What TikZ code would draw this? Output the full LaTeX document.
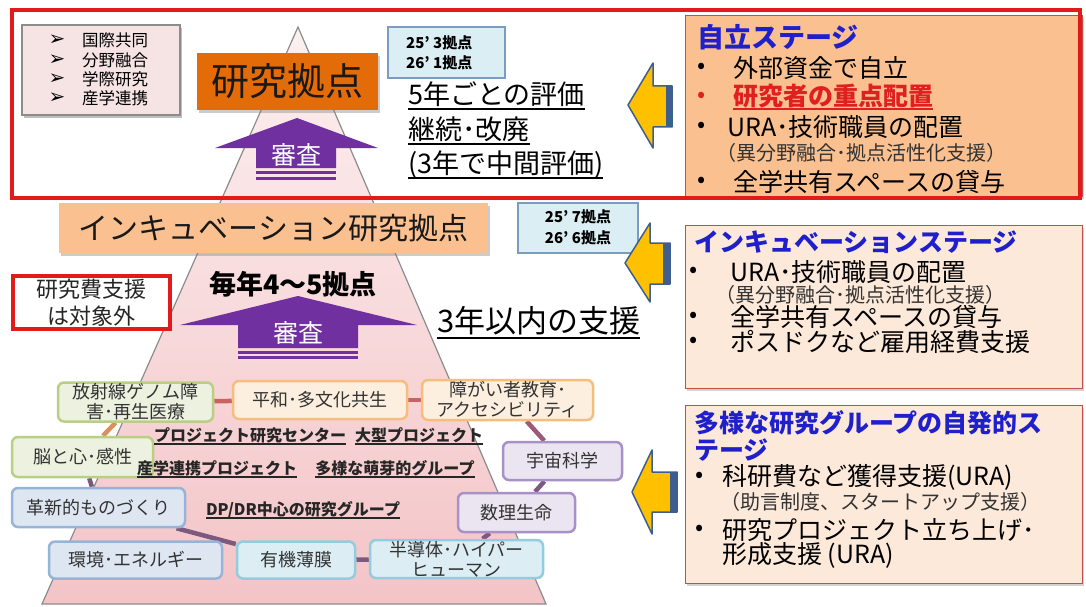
\documentclass[tikz,border=0pt]{standalone}
\usepackage{fontspec}
\setmainfont{Noto Sans CJK JP}
\newfontfamily\dejavu{DejaVu Sans}
\usetikzlibrary{shadows}
\newcommand\setfs[2]{\fontsize{#1}{#2}\selectfont}
\newcommand\myul[1]{\setbox0=\hbox{#1}\leavevmode\rlap{\rule[-0.2em]{\wd0}{0.075em}}\box0}
\definecolor{framered}{HTML}{E31A1A}
\definecolor{peach}{HTML}{FAC090}
\definecolor{lightpink}{HTML}{FDE9D9}
\definecolor{boxedge}{HTML}{C0504D}
\definecolor{titleblue}{HTML}{1F1FCC}
\definecolor{textred}{HTML}{E02020}
\definecolor{orangebox}{HTML}{E36C09}
\definecolor{purp}{HTML}{7030A0}
\definecolor{yellowarr}{HTML}{FFC000}
\definecolor{arredge}{HTML}{3E5F8E}
\definecolor{infofill}{HTML}{DBEEF4}
\definecolor{infoedge}{HTML}{7A9CC0}
\definecolor{pyrtop}{HTML}{FCF0F0}
\definecolor{pyrbot}{HTML}{F4C4C7}
\definecolor{pyredge}{HTML}{8C8C8C}
\definecolor{listfill}{HTML}{F6E3E3}
\definecolor{greenF}{HTML}{EDF1DF}
\definecolor{greenG}{HTML}{B9CF83}
\definecolor{orangeF}{HTML}{FDEFDF}
\definecolor{orangeG}{HTML}{F5BE7E}
\definecolor{lavF}{HTML}{EAE5F0}
\definecolor{lavG}{HTML}{A891C6}
\definecolor{blueF}{HTML}{DEE6F2}
\definecolor{blueG}{HTML}{97B4D8}
\definecolor{cyanF}{HTML}{DCEEF4}
\definecolor{cyanG}{HTML}{93CDDD}
\definecolor{ringred}{HTML}{C96262}
\definecolor{ringmid}{HTML}{9C5A78}
\definecolor{ringpur}{HTML}{7C5A80}
\definecolor{ringorg}{HTML}{D9905A}
\pgfdeclarelayer{bg}
\pgfdeclarelayer{lines}
\pgfsetlayers{bg,lines,main}
\begin{document}
\begin{tikzpicture}[x=1pt,y=-1pt,
  txt/.style={inner sep=0pt, anchor=west, text=black},
  ctxt/.style={inner sep=0pt, text=black},
  tag/.style 2 args={rounded corners=6pt, fill=#1, draw=#2, line width=2.5pt,
    inner sep=0pt, align=center, text=black!80, font=\setfs{18}{20}},
  infobox/.style={fill=infofill, draw=infoedge, line width=2.2pt, inner sep=0pt},
  stagebox/.style={fill=lightpink, draw=boxedge, line width=0.9pt, inner sep=0pt,
    drop shadow={shadow xshift=2pt, shadow yshift=-3pt, opacity=0.35}},
  stagetitle/.style={txt, text=titleblue, font=\setfs{25}{28}\bfseries},
  item/.style={txt, font=\setfs{25}{28}},
  subitem/.style={txt, font=\setfs{20}{22}, text=black!80},
  dot/.style={inner sep=0pt, font=\setfs{24}{26}},
  inner/.style={ctxt, font=\setfs{16}{18}\bfseries, text=black!85},
  purparrow/.style={fill=purp},
  yarrow/.style={fill=yellowarr, draw=arredge, line width=1.5pt, line join=round},
  ringR/.style={draw=ringred, line width=4.5pt},
  ringM/.style={draw=ringmid, line width=4.5pt},
  ringP/.style={draw=ringpur, line width=4.5pt},
  ringO/.style={draw=ringorg, line width=4.5pt}]
\useasboundingbox (0,0) rectangle (1086,607);
\begin{pgfonlayer}{bg}
\fill[white] (0,0) rectangle (1086,607);
\shadedraw[top color=pyrtop, bottom color=pyrbot, draw=pyredge, line width=1.2pt]
  (298,27) -- (546,604) -- (42,604) -- cycle;
\end{pgfonlayer}

% ---------- top list box ----------
\node[fill=listfill, draw=black!45, line width=1.2pt, minimum width=158pt, minimum height=90pt,
  drop shadow={shadow xshift=2pt, shadow yshift=-3pt, opacity=0.5}] (list) at (101,70) {};
\node[ctxt, font=\dejavu\setfs{20}{21}] (b1) at (57,40) {➢};
\node[ctxt, font=\dejavu\setfs{20}{21}] (b2) at (57,60) {➢};
\node[ctxt, font=\dejavu\setfs{20}{21}] (b3) at (57,79) {➢};
\node[ctxt, font=\dejavu\setfs{20}{21}] (b4) at (57,98) {➢};
\node[txt, font=\setfs{16.5}{18}] (l1) at (82,40) {国際共同};
\node[txt, font=\setfs{16.5}{18}] (l2) at (82,60) {分野融合};
\node[txt, font=\setfs{16.5}{18}] (l3) at (82,79) {学際研究};
\node[txt, font=\setfs{16.5}{18}] (l4) at (82,98) {産学連携};

% ---------- research hub ----------
\node[fill=orangebox, minimum width=181pt, minimum height=57pt, inner sep=0pt,
  drop shadow={shadow xshift=2pt, shadow yshift=-3pt, opacity=0.4},
  font=\setfs{38}{40}, text=black!90] (hub) at (287.5,81.5) {研究拠点};

% purple arrow 1
\path[purparrow] (215,148) -- (297,118) -- (378,148) -- (336,148) -- (336,168) -- (256,168) -- (256,148) -- cycle;
\fill[purp] (256,171) rectangle (336,174);
\fill[purp] (256,177) rectangle (336,180);
\node[ctxt, text=white, font=\setfs{25}{26}] (rev1) at (296,155) {審査};

% info box 1
\node[infobox, minimum width=117pt, minimum height=51pt] (info1) at (446.5,52.5) {};
\node[txt, font=\setfs{15}{16}\bfseries] (i1a) at (406,43) {25’ 3拠点};
\node[txt, font=\setfs{15}{16}\bfseries] (i1b) at (406,63) {26’ 1拠点};

\node[txt, font=\setfs{27}{30}] (ev1) at (408,96) {\myul{5年ごとの評価}};
\node[txt, font=\setfs{27}{30}] (ev2) at (408,131) {\myul{継続･改廃}};
\node[txt, font=\setfs{27}{30}] (ev3) at (408,165) {\myul{(3年で中間評価)}};

% yellow arrow 1
\path[yarrow] (628,105) -- (653,63) -- (653,86) -- (672,86) -- (672,127) -- (653,127) -- (653,148) -- cycle;
\fill[arredge] (666,86) rectangle (673,127);

% stage box 1
\node[stagebox, fill=peach, minimum width=397pt, minimum height=181pt] (st1) at (883.5,105.5) {};
\node[stagetitle, font=\setfs{27}{30}\bfseries] (st1t) at (697,37) {自立ステージ};
\node[dot] (d11) at (702,68) {•};
\node[item] (st1a) at (733,68) {外部資金で自立};
\node[dot, text=textred] (d12) at (702,97) {•};
\node[item, text=textred, font=\setfs{25}{28}\bfseries] (st1b) at (733,97) {\myul{研究者の重点配置}};
\node[dot] (d13) at (702,127) {•};
\node[item] (st1c) at (727,127) {URA･技術職員の配置};
\node[subitem] (st1d) at (716,153) {（異分野融合･拠点活性化支援）};
\node[dot] (d14) at (702,182) {•};
\node[item] (st1e) at (733,182) {全学共有スペースの貸与};

% red frame
\draw[framered, line width=4pt] (12,10) rectangle (1080,198);

% ---------- incubation ----------
\node[fill=peach, minimum width=429pt, minimum height=50pt, inner sep=0pt,
  drop shadow={shadow xshift=2pt, shadow yshift=-3pt, opacity=0.4},
  font=\setfs{30}{32}, text=black!90] (inc) at (273.5,228) {インキュベーション研究拠点};

\node[infobox, minimum width=120pt, minimum height=50pt] (info2) at (578,228) {};
\node[ctxt, font=\setfs{15}{16}\bfseries] (i2a) at (578,217) {25’ 7拠点};
\node[ctxt, font=\setfs{15}{16}\bfseries] (i2b) at (578,238) {26’ 6拠点};

\path[yarrow] (625,263) -- (650,223) -- (650,243) -- (670,243) -- (670,284) -- (650,284) -- (650,302) -- cycle;
\fill[arredge] (663,243) rectangle (671,284);

\node[ctxt, font=\setfs{27}{29}\bfseries] (yearly) at (293,284) {毎年4～5拠点};

\path[purparrow] (180,325) -- (298,296) -- (417,325) -- (358,325) -- (358,348) -- (238,348) -- (238,325) -- cycle;
\fill[purp] (238,351) rectangle (358,354);
\fill[purp] (238,356) rectangle (358,359);
\node[ctxt, text=white, font=\setfs{25}{26}] (rev2) at (298,333) {審査};

\node[fill=white, draw=framered, line width=4pt, minimum width=157pt, minimum height=53pt,
  inner sep=0pt, align=center, font=\setfs{22}{27}, text=black!85] (excl) at (91,302.5) {研究費支援\\は対象外};

\node[txt, font=\setfs{31}{33}] (three) at (437,323) {\myul{3年以内の支援}};

% stage box 2
\node[stagebox, minimum width=397pt, minimum height=163pt] (st2) at (883.5,306.5) {};
\node[stagetitle] (st2t) at (694,242) {インキュベーションステージ};
\node[dot] (d21) at (694,272) {•};
\node[item] (st2a) at (730,272) {URA･技術職員の配置};
\node[subitem] (st2b) at (715,295) {（異分野融合･拠点活性化支援）};
\node[dot] (d22) at (694,317) {•};
\node[item] (st2c) at (730,317) {全学共有スペースの貸与};
\node[dot] (d23) at (694,342) {•};
\node[item] (st2d) at (730,342) {ポスドクなど雇用経費支援};

% stage box 3
\path[yarrow] (632,492) -- (652,450) -- (652,472) -- (677,472) -- (677,512) -- (652,512) -- (652,534) -- cycle;
\fill[arredge] (670,472) rectangle (678,512);
\node[stagebox, minimum width=397pt, minimum height=178pt] (st3) at (883.5,494) {};
\node[stagetitle] (st3t) at (694,423) {多様な研究グループの自発的ス};
\node[stagetitle] (st3t2) at (694,450) {テージ};
\node[dot] (d31) at (700,477) {•};
\node[item] (st3a) at (722,477) {科研費など獲得支援(URA)};
\node[subitem] (st3b) at (720,502) {（助言制度、スタートアップ支援）};
\node[dot] (d32) at (700,530) {•};
\node[item] (st3c) at (722,530) {研究プロジェクト立ち上げ･};
\node[item] (st3d) at (722,555) {形成支援 (URA)};

% ---------- group network ----------
\node[tag={greenF}{greenG}, minimum width=155pt, minimum height=39pt] (rad) at (135.5,402) {放射線ゲノム障\\害･再生医療};
\node[tag={orangeF}{orangeG}, minimum width=174pt, minimum height=38pt] (peace) at (320,400) {平和･多文化共生};
\node[tag={orangeF}{orangeG}, minimum width=171pt, minimum height=40pt] (acc) at (507.5,400) {障がい者教育･\\アクセシビリティ};
\node[tag={greenF}{greenG}, minimum width=141pt, minimum height=40pt] (brain) at (82.5,457) {脳と心･感性};
\node[tag={lavF}{lavG}, minimum width=119pt, minimum height=38pt] (space) at (562.5,461) {宇宙科学};
\node[tag={blueF}{blueG}, minimum width=173pt, minimum height=39pt] (mono) at (98.5,507.5) {革新的ものづくり};
\node[tag={lavF}{lavG}, minimum width=117pt, minimum height=39pt] (math) at (516.5,512.5) {数理生命};
\node[tag={blueF}{blueG}, minimum width=173pt, minimum height=37pt] (env) at (135.5,560) {環境･エネルギー};
\node[tag={cyanF}{cyanG}, minimum width=118pt, minimum height=37pt] (org) at (296,560) {有機薄膜};
\node[tag={cyanF}{cyanG}, minimum width=173pt, minimum height=38pt] (semi) at (456.5,559) {半導体･ハイパー\\ヒューマン};

\begin{pgfonlayer}{lines}
\draw[ringR] (rad) -- (peace);
\draw[ringR] (peace) -- (acc);
\draw[ringM] (acc) -- (space);
\draw[ringP] (space) -- (math);
\draw[ringP] (math) -- (semi);
\draw[ringP] (semi) -- (org);
\draw[ringP] (org) -- (mono);
\draw[ringP] (mono) -- (brain);
\draw[ringO] (brain) -- (rad);
\end{pgfonlayer}

\node[inner] (pc) at (250,436) {\myul{プロジェクト研究センター}};
\node[inner] (big) at (419,436) {\myul{大型プロジェクト}};
\node[inner] (ind) at (217,469) {\myul{産学連携プロジェクト}};
\node[inner] (seed) at (395,469) {\myul{多様な萌芽的グループ}};
\node[inner] (dpdr) at (303,510) {\myul{DP/DR中心の研究グループ}};
\end{tikzpicture}
\end{document}
